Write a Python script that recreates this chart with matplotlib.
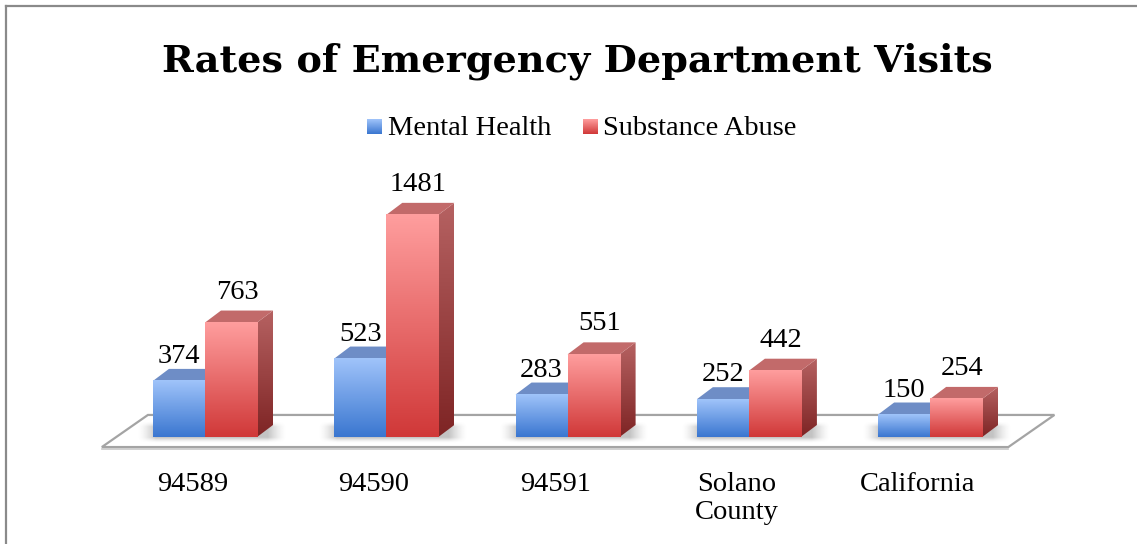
import numpy as np
import matplotlib
matplotlib.use("Agg")
import matplotlib.pyplot as plt
from matplotlib.patches import Polygon
from matplotlib.colors import LinearSegmentedColormap, to_rgb
from matplotlib.lines import Line2D

OUTPUT_FILE = "out.png"

categories = ['94589', '94590', '94591', 'Solano\nCounty', 'California']
series_names = ['Mental Health', 'Substance Abuse']
mental_health = [374, 523, 283, 252, 150]
substance_abuse = [763, 1481, 551, 442, 254]

# face colours for each series: front (top, bottom), side (top, bottom), top face
STYLES = {
    'Mental Health': dict(front=('#a0c4fa', '#3a76d0'), side=('#5f7fb8', '#2e5596'),
                          top='#6e8dc6', label_dx=0.0, label_pad=40),
    'Substance Abuse': dict(front=('#ff9e9e', '#d03838'), side=('#b66262', '#7e2424'),
                            top='#c26a6a', label_dx=0.033, label_pad=80),
}

BAR_W = 0.287        # width of one bar in category slots
BAR_OFF = -0.218     # left edge of the first bar relative to slot centre
DEPTH_X = 0.088      # receding offset of the bar depth
DEPTH_Y = 80         # same, in value units
FLOOR_FRONT = -67
FLOOR_BACK = 147
FLOOR_SHIFT = 0.254

SERIF = ['Liberation Serif', 'DejaVu Serif']


def gradient_cmap(top, bottom):
    return LinearSegmentedColormap.from_list('g', [bottom, top])


def draw_bar(ax, x0, h, style, z):
    x1 = x0 + BAR_W
    grad = np.linspace(0, 1, 256).reshape(-1, 1)

    # side face
    side = Polygon([(x1, 0), (x1 + DEPTH_X, DEPTH_Y), (x1 + DEPTH_X, h + DEPTH_Y), (x1, h)],
                   closed=True, facecolor='none', edgecolor='none', zorder=z)
    ax.add_patch(side)
    im = ax.imshow(grad, extent=(x1, x1 + DEPTH_X, 0, h + DEPTH_Y), origin='lower',
                   cmap=gradient_cmap(*style['side']), aspect='auto', zorder=z,
                   interpolation='bilinear')
    im.set_clip_path(side)

    # top face
    ax.add_patch(Polygon([(x0, h), (x1, h), (x1 + DEPTH_X, h + DEPTH_Y), (x0 + DEPTH_X, h + DEPTH_Y)],
                         closed=True, facecolor=style['top'], edgecolor='none', zorder=z))

    # front face
    ax.imshow(grad, extent=(x0, x1, 0, h), origin='lower',
              cmap=gradient_cmap(*style['front']), aspect='auto', zorder=z + 0.1,
              interpolation='bilinear')


def soft_shadow(ax, x0, x1, y0, y1, zorder):
    # blurred grey blob on the floor behind a pair of bars
    u = np.linspace(-1, 1, 200)
    v = np.linspace(-1, 1, 60)
    fx = np.clip((1 - np.abs(u)) / 0.25, 0, 1)
    fy = np.clip((1 - np.abs(v)) / 0.5, 0, 1)
    alpha = np.outer(fy, fx) ** 1.5 * 0.35
    rgba = np.zeros((60, 200, 4))
    rgba[..., :3] = to_rgb('#555555')
    rgba[..., 3] = alpha
    ax.imshow(rgba, extent=(x0, x1, y0, y1), origin='lower', aspect='auto',
              zorder=zorder, interpolation='bilinear')


def main():
    fig = plt.figure(figsize=(11.37, 5.44), dpi=100)
    ax = fig.add_axes([0, 0, 1, 1])
    ax.set_axis_off()

    n = len(categories)
    xs = np.arange(n)

    # floor plate
    floor = [(-0.5, FLOOR_FRONT), (n - 0.5, FLOOR_FRONT),
             (n - 0.5 + FLOOR_SHIFT, FLOOR_BACK), (-0.5 + FLOOR_SHIFT, FLOOR_BACK)]
    ax.add_patch(Polygon(floor, closed=True, facecolor='white', edgecolor='#a4a4a4',
                         linewidth=1.6, zorder=1))
    ax.plot([-0.5, n - 0.5], [FLOOR_FRONT - 14, FLOOR_FRONT - 14], color='#c8c8c8',
            linewidth=1.2, zorder=1)

    for x in xs:
        left = x + BAR_OFF
        right = left + 2 * BAR_W + DEPTH_X
        soft_shadow(ax, left - 0.09, right + 0.07, -40, DEPTH_Y + 20, zorder=2)

    for s, (name, values) in enumerate(zip(series_names, [mental_health, substance_abuse])):
        style = STYLES[name]
        for x, v in zip(xs, values):
            x0 = x + BAR_OFF + s * BAR_W
            draw_bar(ax, x0, v, style, z=3 + s)
            ax.text(x0 + BAR_W / 2 + style['label_dx'], v + DEPTH_Y + style['label_pad'],
                    str(v), ha='center', va='baseline', fontsize=20.5,
                    family=SERIF, color='black', zorder=10)

    for x, lab in zip(xs, categories):
        ax.text(x, -232, lab, ha='center', va='top', fontsize=20.5, family=SERIF,
                linespacing=1.15, color='black')

    ax.set_xlim(-1.0618, 5.2096)
    ax.set_ylim(-713.3, 2913.3)

    # title
    fig.text(0.5075, 1 - 72 / 544, 'Rates of Emergency Department Visits',
             ha='center', va='baseline', fontsize=27.5, fontweight='bold',
             family=['DejaVu Serif'])

    # legend
    grad = np.linspace(0, 1, 64).reshape(-1, 1)
    W, H = 1137, 544
    for name, sq_x, txt_x in [('Mental Health', 367, 388), ('Substance Abuse', 583, 603)]:
        style = STYLES[name]
        lax = fig.add_axes([sq_x / W, 1 - 134 / H, 15 / W, 15 / H])
        lax.imshow(grad, origin='lower', cmap=gradient_cmap(*style['front']), aspect='auto')
        lax.set_axis_off()
        fig.text(txt_x / W, 1 - 134.5 / H, name, ha='left', va='baseline', fontsize=20.5,
                 family=SERIF)

    # chart frame (left and top edges)
    fig.add_artist(Line2D([6 / W, 6 / W], [0, 1 - 6 / H], color='#8a8a8a', linewidth=1.6))
    fig.add_artist(Line2D([6 / W, 1], [1 - 6 / H, 1 - 6 / H], color='#8a8a8a', linewidth=1.6))

    fig.savefig(OUTPUT_FILE, dpi=100)
    plt.close(fig)


if __name__ == "__main__":
    main()
